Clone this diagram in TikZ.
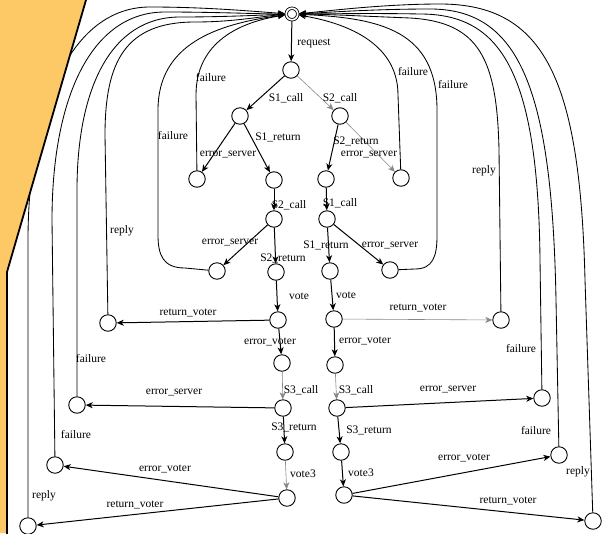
\documentclass[tikz,border=0pt]{standalone}
\usepackage{fontspec}
\setmainfont{Liberation Serif}
\usetikzlibrary{arrows.meta}
\definecolor{foldorange}{RGB}{253,201,102}
\definecolor{edgegray}{RGB}{135,135,135}

\begin{document}
\begin{tikzpicture}[x=1pt, y=-1pt,
    state/.style={circle, draw, line width=0.9pt, minimum size=16.5pt, inner sep=0pt},
    initstate/.style={circle, draw, line width=0.8pt, double, double distance=1.7pt, minimum size=11.5pt, inner sep=0pt, outer sep=1.3pt},
    trans/.style={line width=1pt, -{Stealth[length=7pt,width=6pt,inset=2pt]}},
    lighttrans/.style={trans, draw=edgegray, line width=0.6pt},
    back/.style={trans, line width=0.85pt},
    lbl/.style={font=\fontsize{11.5}{13}\selectfont, inner sep=0pt}]

    \useasboundingbox (0,0) rectangle (609,533);

    % States
    \node[initstate] (start) at (292,14) {};
    \node[state] (req) at (291,70) {};
    \node[state] (la) at (240,116) {};
    \node[state] (ra) at (340,116) {};
    \node[state] (lae) at (197,179) {};
    \node[state] (lar) at (274,180) {};
    \node[state] (rar) at (326,179) {};
    \node[state] (rae) at (401,178) {};
    \node[state] (lb) at (274,219) {};
    \node[state] (rb) at (327,219) {};
    \node[state] (lbe) at (217,271) {};
    \node[state] (lbr) at (276,272) {};
    \node[state] (rbr) at (330,271) {};
    \node[state] (rbe) at (390,270) {};
    \node[state] (lvote) at (278,320) {};
    \node[state] (rvote) at (334,319) {};
    \node[state] (lretv) at (108,323) {};
    \node[state] (rretv) at (501,320) {};
    \node[state] (lerrv) at (282,363) {};
    \node[state] (rerrv) at (335,365) {};
    \node[state] (lcall) at (283,408) {};
    \node[state] (rcall) at (337,408) {};
    \node[state] (lerrs) at (77,405) {};
    \node[state] (rerrs) at (542,398) {};
    \node[state] (lret) at (285,452) {};
    \node[state] (rret) at (341,452) {};
    \node[state] (lvthree) at (287,498) {};
    \node[state] (rvthree) at (344,495) {};
    \node[state] (lfail) at (55,465) {};
    \node[state] (rfail) at (559,455) {};
    \node[state] (lreply) at (28,526) {};
    \node[state] (rreply) at (593,521) {};

    % Forward transitions
    \draw[trans] (start) -- (req);
    \draw[trans] (req) -- (la);
    \draw[lighttrans] (req) -- (ra);
    \draw[trans] (la) -- (lae);
    \draw[trans] (la) -- (lar);
    \draw[trans] (ra) -- (rar);
    \draw[lighttrans] (ra) -- (rae);
    \draw[trans] (lar) -- (lb);
    \draw[trans] (rar) -- (rb);
    \draw[trans] (lb) -- (lbe);
    \draw[trans] (lb) -- (lbr);
    \draw[trans] (rb) -- (rbr);
    \draw[trans] (rb) -- (rbe);
    \draw[trans] (lbr) -- (lvote);
    \draw[trans] (rbr) -- (rvote);
    \draw[trans] (lvote) -- (lretv);
    \draw[lighttrans] (rvote) -- (rretv);
    \draw[trans] (lvote) -- (lerrv);
    \draw[trans] (rvote) -- (rerrv);
    \draw[lighttrans] (lerrv) -- (lcall);
    \draw[lighttrans] (rerrv) -- (rcall);
    \draw[trans] (lcall) -- (lerrs);
    \draw[trans] (rcall) -- (rerrs);
    \draw[trans] (lcall) -- (lret);
    \draw[trans] (rcall) -- (rret);
    \draw[lighttrans] (lret) -- (lvthree);
    \draw[trans] (rret) -- (rvthree);
    \draw[trans] (lvthree) -- (lfail);
    \draw[trans] (lvthree) -- (lreply);
    \draw[trans] (rvthree) -- (rfail);
    \draw[trans] (rvthree) -- (rreply);

    % Back to the initial state, left side
    \draw[back] (lae) -- (196,95) .. controls (196,42) and (240,22) .. (start);
    \draw[back] (lbe) -- (185,268) .. controls (163,268) and (158,255) .. (158,235)
        -- (158,110) .. controls (158,45) and (215,24) .. (start);
    \draw[back] (lretv) -- (105,135) .. controls (105,62) and (125,22) .. (195,22)
        .. controls (235,22) and (263,16) .. (start);
    \draw[back] (lerrs) -- (77,190) .. controls (77,90) and (110,17) .. (180,17)
        .. controls (225,17) and (262,15) .. (start);
    \draw[back] (lfail) -- (52,220) .. controls (52,100) and (90,12) .. (165,12)
        .. controls (215,12) and (260,14) .. (start);
    \draw[back] (lreply) -- (28,240) .. controls (28,110) and (70,7) .. (150,7)
        .. controls (210,7) and (260,12) .. (start);

    % Back to the initial state, right side
    \draw[back] (rae) -- (398,95) .. controls (398,40) and (340,22) .. (start);
    \draw[back] (rbe) -- (415,269) .. controls (433,269) and (437,256) .. (437,236)
        -- (437,110) .. controls (437,30) and (380,18) .. (start);
    \draw[back] (rretv) -- (499,150) .. controls (497,60) and (480,22) .. (410,18)
        .. controls (360,16) and (320,14) .. (start);
    \draw[back] (rerrs) -- (540,260) .. controls (538,70) and (500,14) .. (420,14)
        .. controls (370,13) and (320,14) .. (start);
    \draw[back] (rfail) -- (556,300) .. controls (552,90) and (520,9) .. (430,9)
        .. controls (370,9) and (320,13) .. (start);
    \draw[back] (rreply) -- (585,280) .. controls (580,80) and (545,4) .. (440,4)
        .. controls (380,4) and (320,12) .. (start);

    % Labels
    \node[lbl] (t1) at (314,43) {request};
    \node[lbl] (t2) at (286,98) {S1\_call};
    \node[lbl] (t3) at (340,98) {S2\_call};
    \node[lbl] (t4) at (278,137) {S1\_return};
    \node[lbl] (t5) at (356,141) {S2\_return};
    \node[lbl] (t6) at (228,155) {error\_server};
    \node[lbl] (t7) at (369,155) {error\_server};
    \node[lbl] (t8) at (211,78) {failure};
    \node[lbl] (t9) at (413,72) {failure};
    \node[lbl] (t10) at (173,136) {failure};
    \node[lbl] (t11) at (453,85) {failure};
    \node[lbl] (t12) at (122,231) {reply};
    \node[lbl] (t13) at (484,171) {reply};
    \node[lbl] (t14) at (289,205) {S2\_call};
    \node[lbl] (t15) at (340,203) {S1\_call};
    \node[lbl] (t16) at (230,243) {error\_server};
    \node[lbl] (t17) at (283,258) {S2\_return};
    \node[lbl] (t18) at (326,245) {S1\_return};
    \node[lbl] (t19) at (390,246) {error\_server};
    \node[lbl] (t20) at (299,296) {vote};
    \node[lbl] (t21) at (346,295) {vote};
    \node[lbl] (t22) at (188,313) {return\_voter};
    \node[lbl] (t23) at (418,308) {return\_voter};
    \node[lbl] (t24) at (270,342) {error\_voter};
    \node[lbl] (t25) at (365,341) {error\_voter};
    \node[lbl] (t26) at (91,358) {failure};
    \node[lbl] (t27) at (521,348) {failure};
    \node[lbl] (t28) at (301,390) {S3\_call};
    \node[lbl] (t29) at (356,390) {S3\_call};
    \node[lbl] (t30) at (174,393) {error\_server};
    \node[lbl] (t31) at (448,390) {error\_server};
    \node[lbl] (t32) at (294,427) {S3\_return};
    \node[lbl] (t33) at (369,430) {S3\_return};
    \node[lbl] (t34) at (76,434) {failure};
    \node[lbl] (t35) at (536,430) {failure};
    \node[lbl] (t36) at (165,469) {error\_voter};
    \node[lbl] (t37) at (464,458) {error\_voter};
    \node[lbl] (t38) at (303,474) {vote3};
    \node[lbl] (t39) at (361,473) {vote3};
    \node[lbl] (t40) at (44,496) {reply};
    \node[lbl] (t41) at (578,472) {reply};
    \node[lbl] (t42) at (135,505) {return\_voter};
    \node[lbl] (t43) at (508,501) {return\_voter};

    % Folded corner on the left
    \fill[foldorange] (0,0) -- (86,0) -- (7,272) -- (7,533) -- (0,533) -- cycle;
    \draw[line width=1.8pt] (86,0) -- (7,272) -- (7,534);

\end{tikzpicture}
\end{document}
